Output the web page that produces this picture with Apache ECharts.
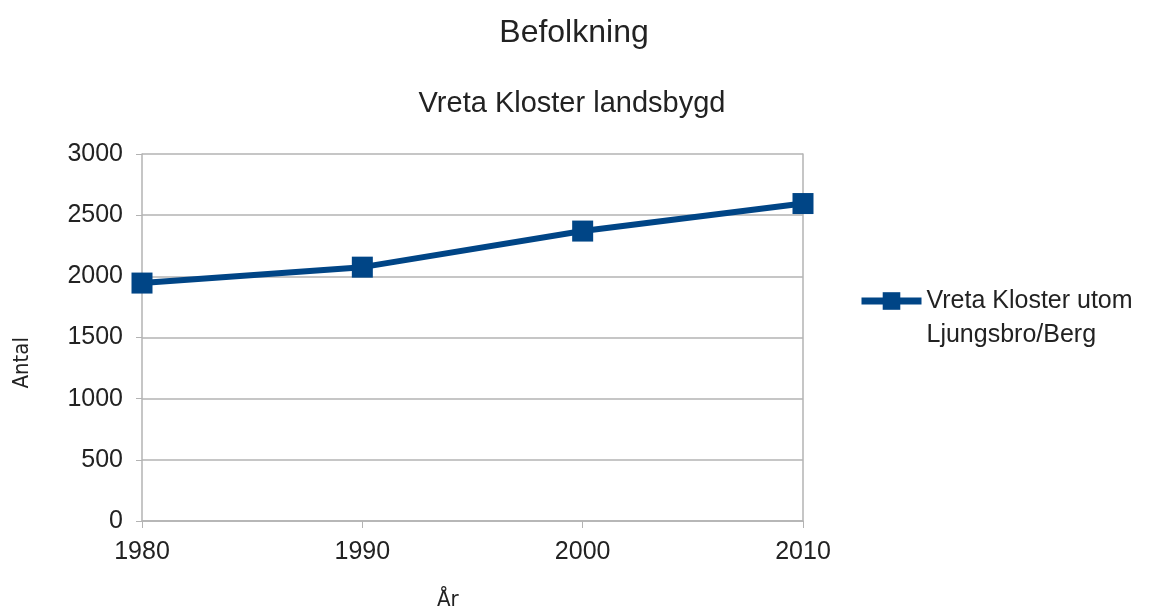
<!DOCTYPE html>
<html>
<head>
<meta charset="utf-8">
<script src="https://cdn.jsdelivr.net/npm/echarts@6/dist/echarts.min.js"></script>
<style>
  html, body { margin: 0; padding: 0; background: #fff; }
  #chart { width: 1151px; height: 612px; }
</style>
</head>
<body>
<div id="chart"></div>
<script>
const years = ["1980", "1990", "2000", "2010"];
const population = [1945, 2075, 2370, 2595];
const seriesName = "Vreta Kloster utom Ljungsbro/Berg";

const myChart = echarts.init(document.getElementById("chart"));
const font = "Liberation Sans, Arial, sans-serif";
const narrow = "Liberation Sans Narrow, DejaVu Sans Condensed, sans-serif";
const gridColor = "#b3b3b3";
const blue = "#004586";

let option = {
  animation: false,
  textStyle: { fontFamily: font },
  title: [
    {
      text: "Befolkning",
      left: 569,
      top: 12,
      textAlign: "center",
      textStyle: { fontSize: 32, fontWeight: "normal", color: "#222", fontFamily: font }
    },
    {
      text: "Vreta Kloster landsbygd",
      left: 567,
      top: 84,
      textAlign: "center",
      textStyle: { fontSize: 29, fontWeight: "normal", color: "#222", fontFamily: font }
    }
  ],
  legend: {
    left: 853,
    top: 245,
    orient: "vertical",
    itemWidth: 60,
    itemHeight: 22,
    // leading blank line keeps the icon level with the first text line
    formatter: name => "\n" + name.replace(" Ljungsbro", "\nLjungsbro"),
    textStyle: {
      fontSize: 25,
      color: "#222",
      lineHeight: 34,
      fontFamily: font
    },
    lineStyle: { width: 7, color: blue },
    itemStyle: { color: blue },
    data: [seriesName]
  },
  graphic: [
    {
      type: "text",
      left: 11,
      top: 337,
      rotation: Math.PI / 2,
      style: { text: "Antal", fontSize: 22, fill: "#222", fontFamily: narrow }
    },
    {
      type: "text",
      left: 437,
      top: 589,
      style: { text: "År", fontSize: 22, fill: "#222", fontFamily: narrow }
    }
  ],
  grid: { left: 142, right: 348, top: 154, bottom: 91, containLabel: false },
  xAxis: {
    type: "category",
    data: years,
    boundaryGap: false,
    axisLine: { lineStyle: { color: gridColor, width: 1.5 } },
    axisTick: { show: true, length: 7, alignWithLabel: true, lineStyle: { color: gridColor } },
    axisLabel: { fontSize: 25, color: "#222", margin: 19, fontFamily: font },
    splitLine: { show: false }
  },
  yAxis: [
    {
      type: "value",
      min: 0,
      max: 3000,
      interval: 500,
      axisLine: { show: true, lineStyle: { color: gridColor, width: 1.5 } },
      axisTick: { show: true, length: 6, lineStyle: { color: gridColor } },
      axisLabel: {
        fontSize: 25,
        color: "#222",
        margin: 19,
        fontFamily: font,
        formatter: v => String(v)
      },
      splitLine: { show: true, lineStyle: { color: gridColor, width: 1.5 } }
    },
    {
      type: "value",
      position: "right",
      min: 0,
      max: 3000,
      interval: 500,
      axisLine: { show: true, lineStyle: { color: gridColor, width: 1.5 } },
      axisTick: { show: false },
      axisLabel: { show: false },
      splitLine: { show: false }
    }
  ],
  series: [
    {
      name: seriesName,
      type: "line",
      data: population,
      symbol: "rect",
      symbolSize: 21,
      color: blue,
      lineStyle: { width: 6, color: blue },
      itemStyle: { color: blue }
    }
  ]
};
myChart.setOption(option, true);
</script>
</body>
</html>
